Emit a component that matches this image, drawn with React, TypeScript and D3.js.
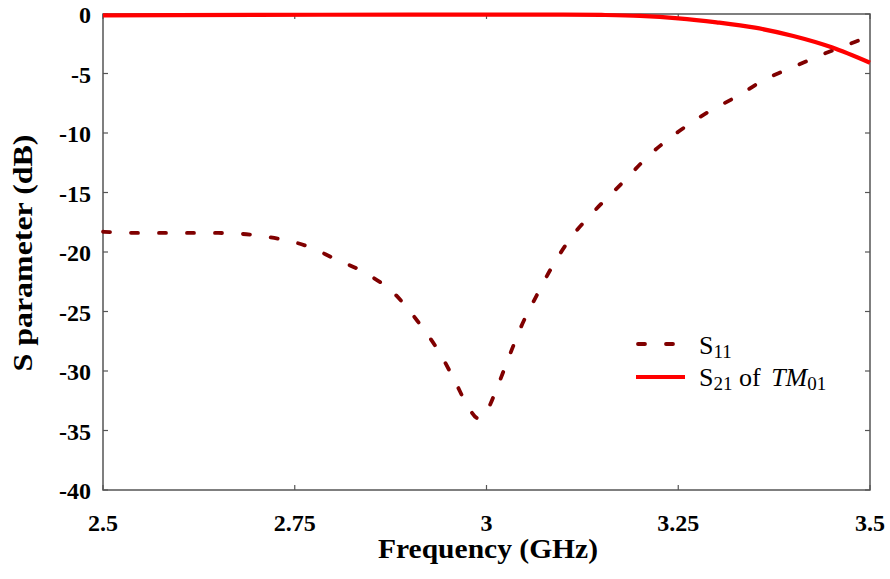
import React from "react";
import * as d3 from "d3";

const s11Freq = [2.5, 2.55, 2.6, 2.65, 2.7, 2.73, 2.77, 2.8, 2.84, 2.88, 2.91, 2.94, 2.96, 2.975, 2.99, 3.0, 3.015, 3.03, 3.045, 3.065, 3.085, 3.11, 3.14, 3.18, 3.21, 3.25, 3.29, 3.33, 3.36, 3.4, 3.44, 3.47, 3.49];
const s11Val = [-18.3, -18.4, -18.4, -18.4, -18.6, -18.9, -19.6, -20.5, -21.7, -23.5, -25.8, -28.6, -31.0, -32.9, -34.0, -33.4, -31.2, -28.7, -26.3, -23.7, -21.3, -18.8, -16.6, -14.0, -12.0, -9.9, -8.2, -6.8, -5.6, -4.45, -3.35, -2.6, -2.1];
const s21Freq = [2.5, 2.7, 2.9, 3.0, 3.1, 3.15, 3.2, 3.25, 3.3, 3.35, 3.4, 3.45, 3.5];
const s21Val = [-0.12, -0.08, -0.05, -0.05, -0.05, -0.08, -0.16, -0.36, -0.7, -1.15, -1.85, -2.8, -4.1];
const xTicks = [2.5, 2.75, 3, 3.25, 3.5];
const yTicks = [0, -5, -10, -15, -20, -25, -30, -35, -40];

const W = 890, H = 579;
const L = 103, R = 870, T = 14, B = 490;

export default function App() {
  const x = d3.scaleLinear().domain([2.5, 3.5]).range([L, R]);
  const y = d3.scaleLinear().domain([-40, 0]).range([B, T]);
  const line = d3.line<[number, number]>().x(d => x(d[0])).y(d => y(d[1])).curve(d3.curveMonotoneX);
  const s11 = line(s11Freq.map((f, i) => [f, s11Val[i]] as [number, number])) || "";
  const s21 = line(s21Freq.map((f, i) => [f, s21Val[i]] as [number, number])) || "";
  const axisColor = "#555";
  const tl = 5;
  const font = "Liberation Serif, Times New Roman, serif";
  return (
    <svg width={W} height={H} style={{ position: "absolute", left: 0, top: 0, background: "#fff", fontFamily: font }}>
      <rect x={0} y={0} width={W} height={H} fill="#fff" />
      <rect x={L} y={T} width={R - L} height={B - T} fill="none" stroke={axisColor} strokeWidth={1.5} />
      {xTicks.map(t => (
        <g key={"xt" + t}>
          <line x1={x(t)} x2={x(t)} y1={B} y2={B - tl} stroke={axisColor} strokeWidth={1.2} />
          <line x1={x(t)} x2={x(t)} y1={T} y2={T + tl} stroke={axisColor} strokeWidth={1.2} />
          <text x={x(t)} y={531} textAnchor="middle" fontSize={24} fontWeight="bold" fill="#000">{String(t)}</text>
        </g>
      ))}
      {yTicks.map(t => (
        <g key={"yt" + t}>
          <line x1={L} x2={L + tl} y1={y(t)} y2={y(t)} stroke={axisColor} strokeWidth={1.2} />
          <line x1={R} x2={R - tl} y1={y(t)} y2={y(t)} stroke={axisColor} strokeWidth={1.2} />
          <text x={91} y={y(t) + 9} textAnchor="end" fontSize={24} fontWeight="bold" fill="#000">{String(t)}</text>
        </g>
      ))}
      <path d={s11} fill="none" stroke="#800000" strokeWidth={3.8} strokeDasharray="7 21" strokeLinecap="round" />
      <path d={s21} fill="none" stroke="#ff0000" strokeWidth={4.2} />
      <text x={488} y={558} textAnchor="middle" fontSize={27} fontWeight="bold" fill="#000" textLength={220} lengthAdjust="spacingAndGlyphs">Frequency (GHz)</text>
      <text transform={`translate(32,253) rotate(-90)`} textAnchor="middle" fontSize={28} fontWeight="bold" fill="#000" textLength={237} lengthAdjust="spacingAndGlyphs">S parameter (dB)</text>
      <line x1={638} x2={677} y1={344} y2={344} stroke="#800000" strokeWidth={3.8} strokeDasharray="7 21" strokeLinecap="round" />
      <text x={699} y={354} fontSize={26} fill="#000">S<tspan fontSize={19} dy={4}>11</tspan></text>
      <line x1={636} x2={685} y1={377} y2={377} stroke="#ff0000" strokeWidth={4.2} />
      <text x={699} y={386} fontSize={26} fill="#000">S<tspan fontSize={19} dy={4}>21</tspan><tspan dy={-4}> of </tspan><tspan dx={4} fontStyle="italic">TM</tspan><tspan fontSize={19} dy={4}>01</tspan></text>
    </svg>
  );
}
